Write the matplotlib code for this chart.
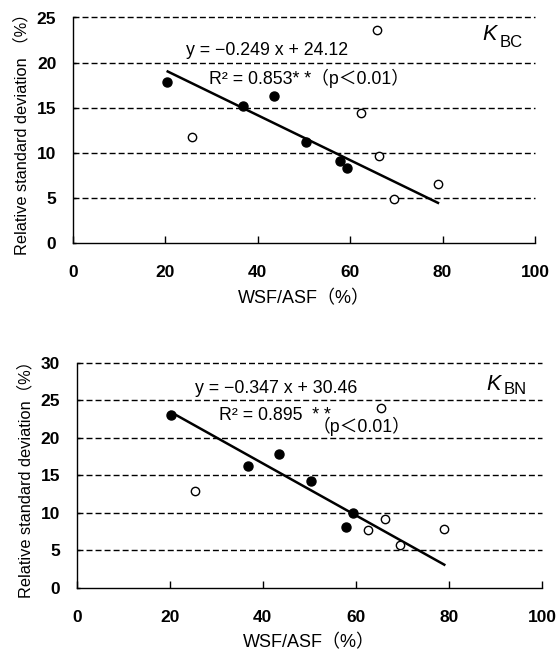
import matplotlib
matplotlib.use("Agg")
import matplotlib.pyplot as plt

plt.rcParams['font.family'] = ['Liberation Sans', 'Noto Sans CJK JP', 'DejaVu Sans']

# ---- data: K_BC panel ----
bc_filled_x = [20.3, 36.7, 43.5, 50.5, 57.9, 59.3]
bc_filled_y = [17.9, 15.2, 16.3, 11.2, 9.1, 8.3]
bc_open_x = [25.7, 62.4, 65.7, 66.3, 69.4, 79.1]
bc_open_y = [11.7, 14.4, 23.6, 9.7, 4.9, 6.5]
bc_slope, bc_intercept = -0.249, 24.12
bc_line_x = [20.5, 79.0]

# ---- data: K_BN panel ----
bn_filled_x = [20.3, 36.8, 43.5, 50.4, 59.4, 57.8]
bn_filled_y = [23.0, 16.3, 17.9, 14.2, 9.9, 8.1]
bn_open_x = [25.5, 62.7, 65.5, 66.3, 69.5, 78.9]
bn_open_y = [12.9, 7.7, 24.0, 9.1, 5.7, 7.8]
bn_slope, bn_intercept = -0.347, 30.46
bn_line_x = [20.3, 79.0]

x_ticks = [0, 20, 40, 60, 80, 100]
bc_y_ticks = [0, 5, 10, 15, 20, 25]
bn_y_ticks = [0, 5, 10, 15, 20, 25, 30]

W, H = 560, 651
fig = plt.figure(figsize=(W / 100, H / 100), dpi=100)


def frac(l, r, b, t):
    return [l / W, 1 - b / H, (r - l) / W, (b - t) / H]


def style_axes(ax, yticks, ylabel):
    ax.set_xlim(0, 100)
    ax.set_ylim(yticks[0], yticks[-1])
    ax.set_xticks(x_ticks)
    ax.set_yticks(yticks)
    for s in ['top', 'right']:
        ax.spines[s].set_visible(False)
    for s in ['left', 'bottom']:
        ax.spines[s].set_linewidth(1.0)
        ax.spines[s].set_color('black')
    ax.tick_params(axis='x', direction='in', length=5, width=1, pad=16,
                   labelsize=12.5)
    ax.tick_params(axis='y', direction='in', length=2.5, width=1, pad=12,
                   labelsize=12.5)
    for lab in ax.get_xticklabels() + ax.get_yticklabels():
        lab.set_fontweight('bold')
    for yv in yticks[1:]:
        ax.axhline(yv, color='black', lw=1.0, ls=(0, (4.3, 2.2)),
                   clip_on=False, zorder=1)
    ax.set_xlabel('WSF/ASF（%）', fontsize=13, labelpad=7)
    ax.set_ylabel(ylabel, fontsize=11.8, labelpad=5)


# ---- top panel ----
ax1 = fig.add_axes(frac(73, 535, 243, 17.5))
style_axes(ax1, bc_y_ticks, 'Relative standard deviation （%）')
ax1.plot(bc_line_x, [bc_slope * x + bc_intercept for x in bc_line_x],
         color='black', lw=1.8, zorder=2)
ax1.plot(bc_filled_x, bc_filled_y, 'o', color='black', ms=6.5, zorder=3)
ax1.plot(bc_open_x, bc_open_y, 'o', mfc='white', mec='black', ms=6,
         mew=1.0, zorder=3)
ax1.text(41.9, 21.3, 'y = −0.249 x + 24.12', fontsize=12.8, ha='center',
         va='center')
ax1.text(51.1, 18.3, 'R² = 0.853* *（p＜0.01）', fontsize=12.8, ha='center',
         va='center')
ax1.text(88.7, 22.5, 'K', fontsize=15.5, style='italic', ha='left',
         va='baseline')
ax1.text(92.4, 21.7, 'BC', fontsize=12, ha='left', va='baseline')

# ---- bottom panel ----
ax2 = fig.add_axes(frac(76.7, 542, 587.5, 363))
style_axes(ax2, bn_y_ticks, 'Relative standard deviation（%）')
ax2.plot(bn_line_x, [bn_slope * x + bn_intercept for x in bn_line_x],
         color='black', lw=1.8, zorder=2)
ax2.plot(bn_filled_x, bn_filled_y, 'o', color='black', ms=6.5, zorder=3)
ax2.plot(bn_open_x, bn_open_y, 'o', mfc='white', mec='black', ms=6,
         mew=1.0, zorder=3)
ax2.text(42.8, 26.6, 'y = −0.347 x + 30.46', fontsize=12.8, ha='center',
         va='center')
ax2.text(42.6, 23.0, 'R² = 0.895  * *', fontsize=12.8, ha='center',
         va='center')
ax2.text(61.2, 21.5, '（p＜0.01）', fontsize=12.8, ha='center', va='center')
ax2.text(88.1, 26.4, 'K', fontsize=15.5, style='italic', ha='left',
         va='baseline')
ax2.text(91.7, 25.8, 'BN', fontsize=12, ha='left', va='baseline')

fig.savefig('out.png', dpi=100)
